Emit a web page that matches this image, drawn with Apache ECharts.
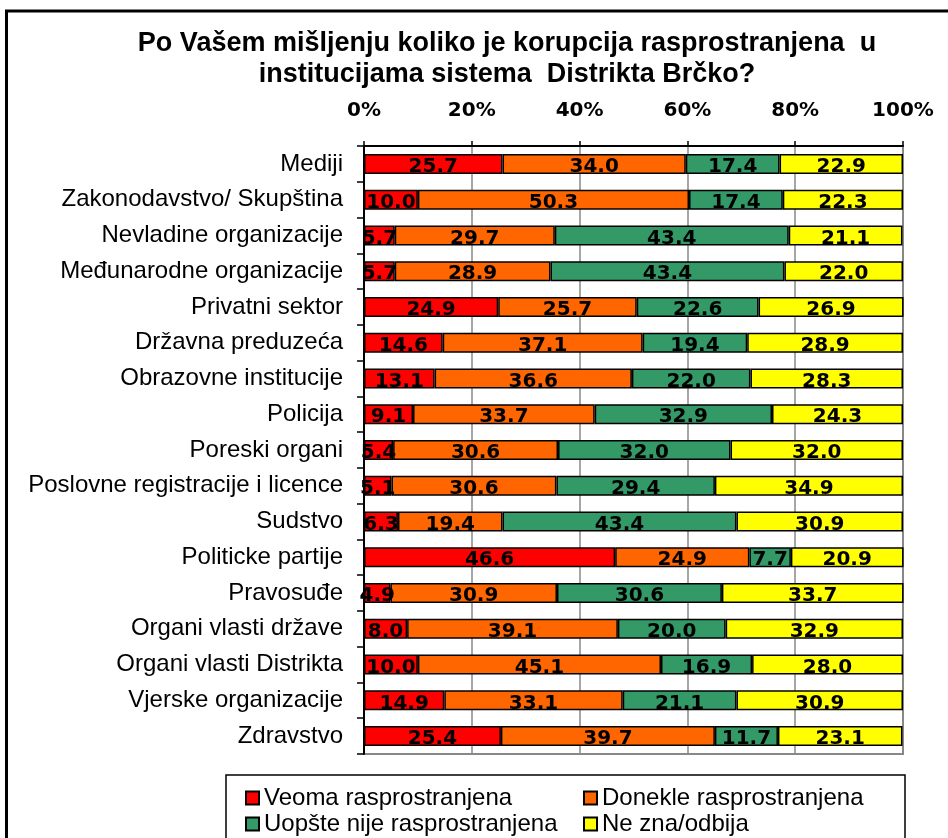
<!DOCTYPE html>
<html>
<head>
<meta charset="utf-8">
<script src="https://cdn.jsdelivr.net/npm/echarts@6/dist/echarts.min.js"></script>
<style>
html, body { margin: 0; padding: 0; background: #fff; }
#main { width: 948px; height: 838px; }
</style>
</head>
<body>
<div id="main"></div>
<script>
var chart = echarts.init(document.getElementById('main'));

// categories, top to bottom
var categories = ['Mediji', 'Zakonodavstvo/ Skupština', 'Nevladine organizacije', 'Međunarodne organizacije',
  'Privatni sektor', 'Državna preduzeća', 'Obrazovne institucije', 'Policija', 'Poreski organi',
  'Poslovne registracije i licence', 'Sudstvo', 'Politicke partije', 'Pravosuđe',
  'Organi vlasti države', 'Organi vlasti Distrikta', 'Vjerske organizacije', 'Zdravstvo'];

var veoma   = [25.7, 10.0, 5.7, 5.7, 24.9, 14.6, 13.1, 9.1, 5.4, 5.1, 6.3, 46.6, 4.9, 8.0, 10.0, 14.9, 25.4];
var donekle = [34.0, 50.3, 29.7, 28.9, 25.7, 37.1, 36.6, 33.7, 30.6, 30.6, 19.4, 24.9, 30.9, 39.1, 45.1, 33.1, 39.7];
var uopste  = [17.4, 17.4, 43.4, 43.4, 22.6, 19.4, 22.0, 32.9, 32.0, 29.4, 43.4, 7.7, 30.6, 20.0, 16.9, 21.1, 11.7];
var nezna   = [22.9, 22.3, 21.1, 22.0, 26.9, 28.9, 28.3, 24.3, 32.0, 34.9, 30.9, 20.9, 33.7, 32.9, 28.0, 30.9, 23.1];

var seriesNames = ['Veoma rasprostranjena', 'Donekle rasprostranjena', 'Uopšte nije rasprostranjena', 'Ne zna/odbija'];
var colors = ['#FF0000', '#FF6600', '#339966', '#FFFF00'];
var values = [veoma, donekle, uopste, nezna];

var series = values.map(function (d, i) {
  return {
    name: seriesNames[i],
    type: 'bar',
    stack: 'total',
    barWidth: 20,
    data: d,
    itemStyle: { color: colors[i], borderColor: '#000', borderWidth: 1.5 },
    label: {
      show: true,
      position: 'inside',
      offset: [0, 3],
      color: '#000',
      fontFamily: 'DejaVu Sans',
      fontWeight: 'bold',
      fontSize: 20,
      formatter: function (p) { return p.value.toFixed(1); }
    }
  };
});

option = {
  animation: false,
  backgroundColor: '#fff',
  title: {
    text: 'Po Vašem mišljenju koliko je korupcija rasprostranjena  u\ninstitucijama sistema  Distrikta Brčko?',
    left: 502,
    top: 23,
    textAlign: 'center',
    textStyle: {
      fontFamily: 'Liberation Sans',
      fontWeight: 'bold',
      fontSize: 27,
      lineHeight: 31,
      color: '#000'
    }
  },
  grid: {
    left: 364, right: 45, top: 146, bottom: 84,
    show: true, borderColor: '#888', borderWidth: 2
  },
  xAxis: {
    type: 'value',
    position: 'top',
    min: 0, max: 100, interval: 20,
    axisLine: { show: true, lineStyle: { color: '#000', width: 2 } },
    axisTick: { show: true, length: 5, lineStyle: { color: '#000', width: 1.5 } },
    splitLine: { show: true, lineStyle: { color: '#888', width: 1.5 } },
    axisLabel: {
      formatter: '{value}%',
      margin: 25,
      color: '#000',
      fontFamily: 'DejaVu Sans',
      fontWeight: 'bold',
      fontSize: 20
    }
  },
  yAxis: {
    type: 'category',
    inverse: true,
    data: categories,
    axisLine: { show: true, lineStyle: { color: '#000', width: 2 } },
    axisTick: { show: true, length: 7, lineStyle: { color: '#000', width: 1.5 } },
    axisLabel: {
      margin: 21,
      color: '#000',
      fontFamily: 'Liberation Sans',
      fontSize: 24
    }
  },
  legend: [
    {
      data: [seriesNames[0], seriesNames[2]],
      orient: 'vertical',
      left: 245, top: 786,
      itemWidth: 13, itemHeight: 13, itemGap: 2,
      icon: 'rect',
      padding: 0,
      textStyle: { fontFamily: 'Liberation Sans', fontSize: 24, color: '#000' }
    },
    {
      data: [seriesNames[1], seriesNames[3]],
      orient: 'vertical',
      left: 583, top: 786,
      itemWidth: 13, itemHeight: 13, itemGap: 2,
      icon: 'rect',
      padding: 0,
      textStyle: { fontFamily: 'Liberation Sans', fontSize: 24, color: '#000' }
    }
  ],
  graphic: [
    {
      type: 'rect',
      shape: { x: 6.5, y: 11, width: 1000, height: 1000 },
      style: { fill: 'none', stroke: '#000', lineWidth: 3 },
      z: 100
    },
    {
      type: 'rect',
      shape: { x: 226, y: 775, width: 679, height: 100 },
      style: { fill: 'none', stroke: '#000', lineWidth: 1.5 },
      z: 100
    }
  ],
  series: series
};

chart.setOption(option);
</script>
</body>
</html>
